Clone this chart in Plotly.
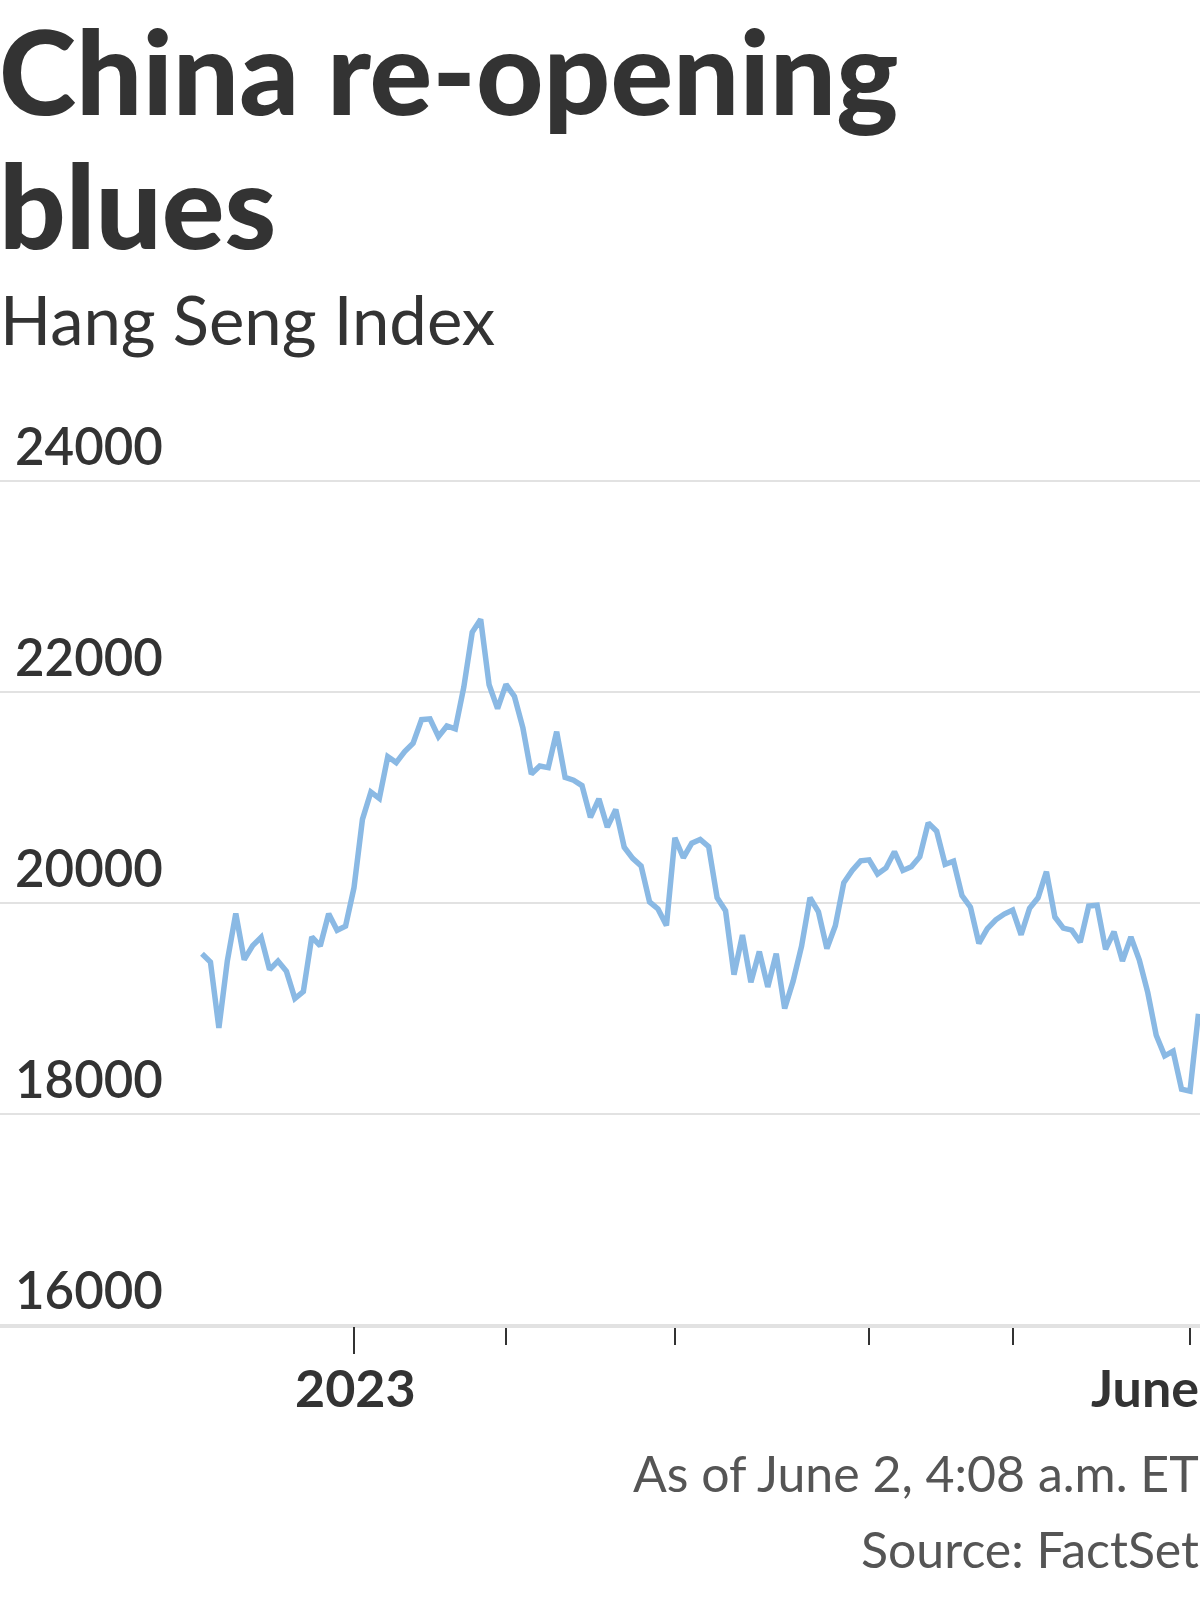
import plotly.graph_objects as go
import pandas as pd

# ---------------- data ----------------
HK_HOLIDAYS = ["2022-12-26", "2022-12-27", "2023-01-02", "2023-01-23", "2023-01-24",
               "2023-01-25", "2023-04-05", "2023-04-07", "2023-04-10", "2023-05-01",
               "2023-05-26"]
dates = [d.strftime("%Y-%m-%d") for d in
         pd.bdate_range("2022-12-05", "2023-06-02", freq="C", holidays=HK_HOLIDAYS)]

dec_2022 = [19518, 19441, 18815, 19450, 19901, 19463, 19596, 19674, 19368, 19450,
            19352, 19094, 19160, 19679, 19593, 19898, 19741, 19781]
jan_2023 = [20145, 20793, 21052, 20991, 21388, 21331, 21436, 21514, 21738, 21746,
            21577, 21678, 21651, 22044, 22566, 22689, 22069, 21842]
feb_2023 = [22072, 21958, 21660, 21222, 21298, 21283, 21624, 21190, 21164, 21113,
            20812, 20987, 20719, 20886, 20529, 20423, 20351, 20010, 19943, 19786]
mar_2023 = [20619, 20429, 20567, 20603, 20534, 20051, 19926, 19320, 19696, 19248,
            19540, 19204, 19519, 19000, 19259, 19591, 20050, 19916, 19568, 19785,
            20192, 20309, 20400]
apr_2023 = [20409, 20275, 20332, 20486, 20309, 20344, 20439, 20760, 20680, 20367,
            20396, 20070, 19960, 19617, 19757, 19841, 19895]
may_2023 = [19933, 19699, 19949, 20049, 20297, 19867, 19762, 19743, 19628, 19971,
            19978, 19561, 19727, 19450, 19678, 19460, 19150, 18746, 18551, 18595,
            18234]
jun_2023 = [18216, 18950]

hang_seng = dec_2022 + jan_2023 + feb_2023 + mar_2023 + apr_2023 + may_2023 + jun_2023

month_tick_dates = ["2023-01-03", "2023-02-01", "2023-03-01", "2023-04-03",
                    "2023-05-02", "2023-06-01"]
year_tick_date = "2023-01-03"
year_label = "2023"
last_month_label = "June"
y_ticks = [16000, 18000, 20000, 22000, 24000]
y_tick_labels = ["16000", "18000", "20000", "22000", "24000"]

title_lines = ["China re-opening", "blues"]
subtitle = "Hang Seng Index"
footer_lines = ["As of June 2, 4:08 a.m. ET", "Source: FactSet"]

# ---------------- layout geometry ----------------
W, H = 1200, 1600
Y0, Y1 = 15990, 24010
PX_PER_UNIT = 843.5 / 8000.0
TOP_PX = 481.5 - (Y1 - 24000) * PX_PER_UNIT
BOT_PX = 1325.0 + (16000 - Y0) * PX_PER_UNIT
PLOT_H = BOT_PX - TOP_PX

FONT = "Lato"
DARK = "#333333"
GREY = "#555555"
LINE_BLUE = "#8ab9e4"
GRID = "#e2e2e2"


def paper_y(px):
    return (BOT_PX - px) / PLOT_H


def baseline_y(px, size):
    # annotation anchored at bottom: box bottom sits below the baseline by the descent
    return paper_y(px + 0.2 * size + 2)


n = len(dates)
assert n == len(hang_seng), (n, len(hang_seng))
pos = {d: i for i, d in enumerate(dates)}
x_px_per_day = (1190.0 - 354.0) / (pos["2023-06-01"] - pos["2023-01-03"])
x_start = pos["2023-01-03"] - 354.0 / x_px_per_day
x_range = [x_start, x_start + W / x_px_per_day]

fig = go.Figure()
fig.add_trace(go.Scatter(
    x=dates, y=hang_seng, mode="lines",
    line=dict(color=LINE_BLUE, width=5.5),
    hoverinfo="x+y", showlegend=False,
))
# helper trace so the overlay axis (long year tick) shares the categories
fig.add_trace(go.Scatter(x=dates, y=hang_seng, mode="none", xaxis="x2",
                         hoverinfo="skip", showlegend=False))

annotations = []
for v, lab in zip(y_ticks, y_tick_labels):
    annotations.append(dict(
        x=0, xref="paper", xanchor="left", xshift=13,
        y=v, yref="y", yanchor="bottom", yshift=3,
        text=lab, showarrow=False,
        font=dict(family=FONT, size=51, color=DARK, weight=600),
    ))

annotations.append(dict(
    x=year_tick_date, xref="x", xanchor="center", xshift=1,
    y=baseline_y(1408, 50), yref="paper", yanchor="bottom",
    text=year_label, showarrow=False,
    font=dict(family=FONT, size=52, color=DARK, weight=700),
))
annotations.append(dict(
    x=1, xref="paper", xanchor="right", xshift=1,
    y=baseline_y(1408, 50), yref="paper", yanchor="bottom",
    text=last_month_label, showarrow=False,
    font=dict(family=FONT, size=52, color=DARK, weight=700),
))

for txt, base in zip(footer_lines, [1493, 1569]):
    annotations.append(dict(
        x=1, xref="paper", xanchor="right", xshift=1,
        y=baseline_y(base, 50), yref="paper", yanchor="bottom",
        text=txt, showarrow=False,
        font=dict(family=FONT, size=50, color=GREY),
    ))

for txt, base in zip(title_lines, [117, 251]):
    annotations.append(dict(
        x=0, xref="paper", xanchor="left", xshift=-3,
        y=baseline_y(base, 117), yref="paper", yanchor="bottom",
        text=txt, showarrow=False,
        font=dict(family=FONT, size=117, color=DARK, weight=900),
    ))

annotations.append(dict(
    x=0, xref="paper", xanchor="left", xshift=-2,
    y=baseline_y(346, 67), yref="paper", yanchor="bottom",
    text=subtitle, showarrow=False,
    font=dict(family=FONT, size=67, color=DARK, weight=400),
))

fig.update_layout(
    width=W, height=H,
    margin=dict(l=0, r=0, t=TOP_PX, b=H - BOT_PX, pad=0),
    paper_bgcolor="white", plot_bgcolor="white",
    showlegend=False,
    xaxis=dict(
        type="category", categoryorder="array", categoryarray=dates,
        range=x_range, tickmode="array", tickvals=month_tick_dates,
        showticklabels=False, ticks="outside", ticklen=17, tickwidth=2,
        tickcolor=DARK, showgrid=False, showline=True, linecolor=GRID,
        linewidth=2, zeroline=False, fixedrange=True,
    ),
    xaxis2=dict(
        type="category", categoryorder="array", categoryarray=dates,
        overlaying="x", matches="x", anchor="y", side="bottom",
        range=x_range, tickmode="array", tickvals=[year_tick_date],
        showticklabels=False, ticks="outside", ticklen=27, tickwidth=2,
        tickcolor=DARK, showgrid=False, showline=False, zeroline=False,
    ),
    yaxis=dict(
        range=[Y0, Y1], tickmode="array", tickvals=y_ticks,
        showticklabels=False, ticks="", showgrid=True, gridcolor=GRID,
        gridwidth=2, zeroline=False, showline=False, fixedrange=True,
    ),
    annotations=annotations,
)

fig.write_html(
    "out.html",
    config={"displayModeBar": False},
    post_script="document.body.style.margin='0';document.body.style.overflow='hidden';",
)
